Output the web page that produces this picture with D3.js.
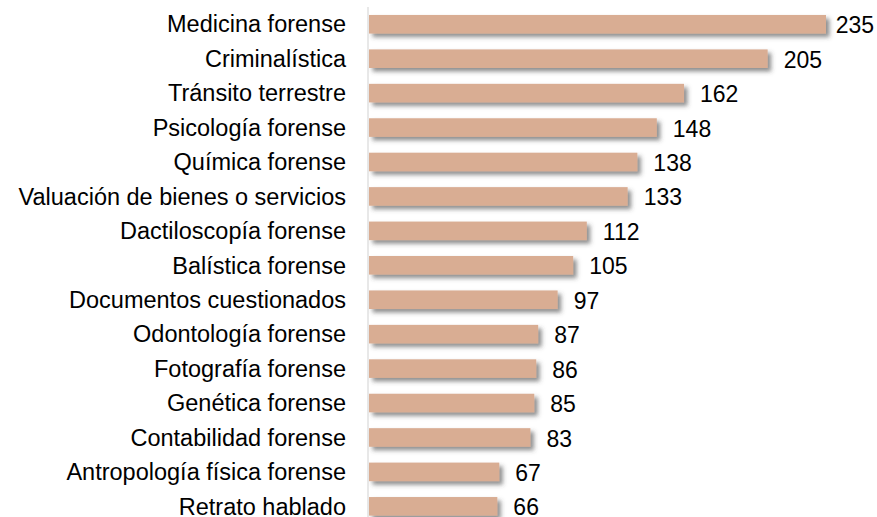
<!DOCTYPE html>
<html>
<head>
<meta charset="utf-8">
<script src="https://cdn.jsdelivr.net/npm/d3@7"></script>
<style>
  body { margin: 0; background: #fff; }
  svg { font-family: "Liberation Sans", Arial, sans-serif; }
</style>
</head>
<body>
<div id="chart"></div>
<script>
/*
 * Chart data.
 */
var categories = [
    'Medicina forense',
    'Criminalística',
    'Tránsito terrestre',
    'Psicología forense',
    'Química forense',
    'Valuación de bienes o servicios',
    'Dactiloscopía forense',
    'Balística forense',
    'Documentos cuestionados',
    'Odontología forense',
    'Fotografía forense',
    'Genética forense',
    'Contabilidad forense',
    'Antropología física forense',
    'Retrato hablado'
];
var values = [235, 205, 162, 148, 138, 133, 112, 105, 97, 87, 86, 85, 83, 67, 66];

var width = 877, height = 517;
var x0 = 368;

var svg = d3.select('#chart').append('svg')
    .attr('width', width)
    .attr('height', height);

/*
 * Drop shadow for bars.
 */
var filter = svg.append('defs').append('filter')
    .attr('id', 'shadow')
    .attr('x', '-5%').attr('y', '-40%')
    .attr('width', '120%').attr('height', '200%');
filter.append('feDropShadow')
    .attr('dx', 3.5).attr('dy', 3.5)
    .attr('stdDeviation', 2.2)
    .attr('flood-color', '#444')
    .attr('flood-opacity', 0.6);

/*
 * Scales.
 */
var x = d3.scaleLinear()
    .domain([0, 235])
    .range([x0 + 1, 826]);
var y = d3.scaleBand()
    .domain(categories)
    .range([6.7, 523.9])
    .paddingInner(0.46)
    .paddingOuter(0.24);

/*
 * Bars.
 */
svg.append('g').selectAll('rect')
    .data(values)
    .enter().append('rect')
    .attr('x', x(0))
    .attr('y', (d, i) => y(categories[i]))
    .attr('width', d => x(d) - x(0))
    .attr('height', y.bandwidth())
    .attr('fill', '#D9AD93')
    .attr('filter', 'url(#shadow)');

/*
 * Axis line.
 */
svg.append('line')
    .attr('x1', x0).attr('x2', x0)
    .attr('y1', 7).attr('y2', height)
    .attr('stroke', '#d9d9d9')
    .attr('stroke-width', 1.2);

/*
 * Category labels.
 */
svg.append('g').selectAll('text')
    .data(categories)
    .enter().append('text')
    .attr('x', 346)
    .attr('y', d => y(d) + y.bandwidth() / 2)
    .attr('dy', '0.35em')
    .attr('text-anchor', 'end')
    .attr('font-size', 23.5)
    .attr('fill', '#000')
    .text(d => d);

/*
 * Value labels, kept inside the picture's right edge.
 */
svg.append('g').selectAll('text')
    .data(values)
    .enter().append('text')
    .attr('y', (d, i) => y(categories[i]) + y.bandwidth() / 2 + 1)
    .attr('dy', '0.35em')
    .attr('font-size', 23)
    .attr('fill', '#000')
    .text(d => d)
    .attr('x', function(d) {
        var w = this.getComputedTextLength();
        return Math.min(x(d) + 16, width - 3 - w);
    });
</script>
</body>
</html>
